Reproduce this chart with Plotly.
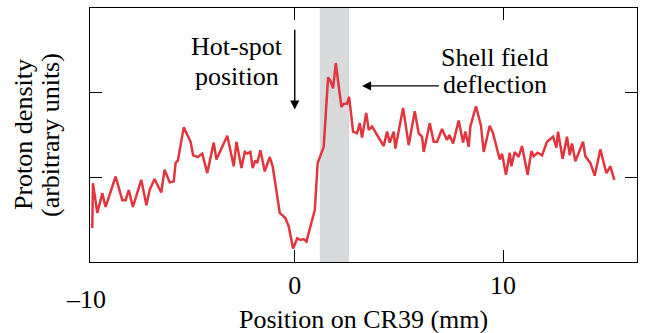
import plotly.graph_objects as go

# Position on CR39 (mm)
position_mm = [
    -9.72, -9.69, -9.48, -9.24, -9.08, -8.60, -8.28, -8.12, -7.97, -7.77,
    -7.37, -7.12, -6.97, -6.73, -6.41, -6.25, -6.00, -5.81, -5.72, -5.61,
    -5.33, -5.00, -4.88, -4.65, -4.44, -4.20, -3.89, -3.76, -3.24, -2.93,
    -2.80, -2.56, -2.40, -2.28, -2.13, -2.02, -1.89, -1.80, -1.65, -1.44,
    -1.20, -1.06, -0.72, -0.45, -0.29, -0.08, 0.12, 0.27, 0.43, 0.56,
    0.75, 0.96, 1.10, 1.39, 1.60, 1.71, 1.84, 1.97, 2.24, 2.35,
    2.51, 2.61, 2.80, 2.99, 3.12, 3.23, 3.43, 3.55, 3.71, 4.27,
    4.43, 4.56, 4.75, 4.83, 5.20, 5.47, 5.76, 5.95, 6.11, 6.19,
    6.48, 6.67, 6.83, 7.07, 7.31, 7.42, 7.60, 7.87, 8.08, 8.19,
    8.35, 8.43, 8.70, 8.94, 9.07, 9.36, 9.52, 9.84, 9.95, 10.14,
    10.32, 10.40, 10.56, 10.75, 10.91, 11.18, 11.36, 11.47, 11.66, 11.87,
    12.11, 12.40, 12.56, 12.64, 12.86, 13.07, 13.20, 13.31, 13.47, 13.84,
    13.95, 14.19, 14.40, 14.67, 14.96, 15.15, 15.34,
]

# Proton density (arbitrary units)
proton_density = [
    0.40, 0.93, 0.58, 0.81, 0.65, 1.01, 0.73, 0.73, 0.85, 0.65,
    0.97, 0.67, 0.85, 0.98, 0.82, 1.09, 0.94, 0.95, 1.17, 1.20,
    1.59, 1.42, 1.26, 1.24, 1.28, 1.05, 1.41, 1.21, 1.49, 1.13,
    1.42, 1.11, 1.30, 1.28, 1.30, 1.11, 1.20, 1.17, 1.32, 1.07,
    1.24, 1.13, 0.58, 0.52, 0.42, 0.16, 0.28, 0.26, 0.27, 0.24,
    0.42, 0.61, 1.17, 1.36, 2.18, 2.14, 2.05, 2.35, 1.83, 1.87,
    1.87, 1.95, 1.54, 1.52, 1.64, 1.47, 1.76, 1.56, 1.60, 1.37,
    1.54, 1.41, 1.54, 1.34, 1.82, 1.38, 1.78, 1.52, 1.48, 1.30,
    1.64, 1.42, 1.42, 1.57, 1.44, 1.50, 1.40, 1.67, 1.41, 1.54,
    1.36, 1.60, 1.84, 1.61, 1.30, 1.61, 1.52, 1.21, 1.28, 1.03,
    1.29, 1.13, 1.30, 1.24, 1.37, 1.03, 1.31, 1.25, 1.29, 1.26,
    1.42, 1.48, 1.35, 1.54, 1.22, 1.48, 1.26, 1.40, 1.19, 1.42,
    1.25, 1.17, 1.02, 1.33, 1.05, 1.13, 0.97,
]

shell_band = [1.20, 2.61]
x_range = [-9.83, 16.43]
x_tick_vals = [0, 10]
x_tick_text = ["0", "10"]
y_tick_vals = [1, 2]

FONT = "Liberation Serif"
FS = 26

fig = go.Figure()
fig.add_trace(go.Scatter(
    x=position_mm, y=proton_density, mode="lines",
    line=dict(color="#e2363f", width=2.5), showlegend=False,
    hoverinfo="skip",
))

fig.add_shape(type="rect", xref="x", yref="paper",
              x0=shell_band[0], x1=shell_band[1], y0=0, y1=1,
              fillcolor="#d8d9db", line=dict(width=0), layer="below")

ann = []
# -10 tick label (its tick sits just left of the frame)
ann.append(dict(x=(-10 - x_range[0]) / (x_range[1] - x_range[0]), y=0,
                xref="paper", yref="paper", text="–10",
                showarrow=False, xanchor="center", yanchor="top", yshift=-21,
                font=dict(family=FONT, size=FS, color="black")))
# axis titles
ann.append(dict(x=0.5, y=0, xref="paper", yref="paper", text="Position on CR39 (mm)",
                showarrow=False, xanchor="center", yanchor="middle", yshift=-57,
                font=dict(family=FONT, size=FS, color="black")))
ann.append(dict(x=0, y=0.5, xref="paper", yref="paper", text="Proton density",
                showarrow=False, xanchor="center", yanchor="middle", xshift=-67,
                textangle=-90, font=dict(family=FONT, size=FS, color="black")))
ann.append(dict(x=0, y=0.5, xref="paper", yref="paper", text="(arbitrary units)",
                showarrow=False, xanchor="center", yanchor="middle", xshift=-40,
                textangle=-90, font=dict(family=FONT, size=FS, color="black")))
# labels
for txt, xx, yy in [("Hot-spot", -2.75, 2.54), ("position", -2.75, 2.19),
                    ("Shell field", 9.63, 2.42), ("deflection", 9.63, 2.10)]:
    ann.append(dict(x=xx, y=yy, xref="x", yref="y", text=txt, showarrow=False,
                    xanchor="center", yanchor="middle",
                    font=dict(family=FONT, size=FS, color="black")))
# arrows
ann.append(dict(x=0, y=1.80, xref="x", yref="y", ax=0, ay=2.76, axref="x", ayref="y",
                text="", showarrow=True, arrowhead=2, arrowsize=1.3, arrowwidth=1.4,
                arrowcolor="black"))
ann.append(dict(x=3.23, y=2.08, xref="x", yref="y", ax=6.99, ay=2.08, axref="x", ayref="y",
                text="", showarrow=True, arrowhead=2, arrowsize=1.3, arrowwidth=1.4,
                arrowcolor="black"))

fig.update_layout(
    width=646, height=333,
    margin=dict(l=90, r=9, t=8, b=71),
    paper_bgcolor="white", plot_bgcolor="white",
    annotations=ann,
    font=dict(family=FONT, size=FS, color="black"),
)
fig.update_xaxes(range=x_range, tickvals=x_tick_vals, ticktext=x_tick_text,
                 ticks="inside", ticklen=12, tickwidth=1.3, tickcolor="black",
                 showline=True, linecolor="black", linewidth=1.3, mirror="allticks",
                 showgrid=False, zeroline=False,
                 tickfont=dict(family=FONT, size=FS, color="black"))
fig.update_yaxes(range=[0, 3], tickvals=y_tick_vals, showticklabels=False,
                 ticks="inside", ticklen=12, tickwidth=1.3, tickcolor="black",
                 showline=True, linecolor="black", linewidth=1.3, mirror="allticks",
                 showgrid=False, zeroline=False)

fig.write_html("out.html", config={"displayModeBar": False},
               post_script="document.body.style.margin='0px';")
